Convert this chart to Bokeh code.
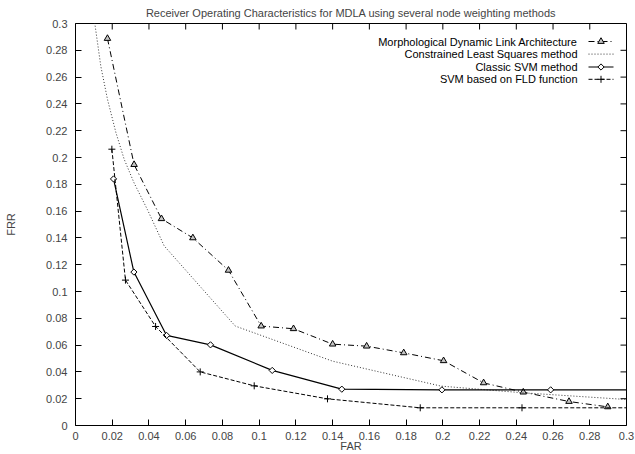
from bokeh.plotting import figure
from bokeh.models import Range1d, FixedTicker, CustomJSTickFormatter, Label, Title
from bokeh.embed import file_html
from bokeh.resources import INLINE
import math

# ---------------- data ----------------
TICKS = [0, 0.02, 0.04, 0.06, 0.08, 0.1, 0.12, 0.14, 0.16, 0.18, 0.2, 0.22, 0.24, 0.26, 0.28, 0.3]

MDLA_FAR = [0.0174, 0.0319, 0.0468, 0.0639, 0.0833, 0.1011, 0.1187, 0.1400, 0.1585, 0.1787, 0.2004, 0.2222, 0.2438, 0.2687, 0.2898]
MDLA_FRR = [0.2888, 0.1947, 0.1543, 0.1400, 0.1158, 0.0742, 0.0722, 0.0607, 0.0592, 0.0542, 0.0483, 0.0318, 0.0249, 0.0179, 0.0139]

CLS_FAR = [0.0100, 0.0138, 0.0174, 0.0220, 0.0265, 0.0319, 0.0392, 0.0483, 0.0870, 0.1400, 0.1990, 0.2436, 0.3000]
CLS_FRR = [0.3050, 0.2680, 0.2435, 0.2186, 0.1987, 0.1810, 0.1610, 0.1340, 0.0742, 0.0480, 0.0294, 0.0244, 0.0194]

SVM_FAR = [0.0207, 0.0318, 0.0496, 0.0735, 0.1071, 0.1450, 0.1995, 0.2587, 0.3200]
SVM_FRR = [0.1840, 0.1145, 0.0672, 0.0602, 0.0411, 0.0271, 0.0266, 0.0266, 0.0266]

FLD_FAR = [0.0198, 0.0272, 0.0436, 0.0679, 0.0973, 0.1372, 0.1877, 0.2431, 0.3200]
FLD_FRR = [0.2062, 0.1085, 0.0739, 0.0400, 0.0296, 0.0199, 0.0132, 0.0132, 0.0132]

NAMES = ["Morphological Dynamic Link Architecture",
         "Constrained Least Squares method",
         "Classic SVM method",
         "SVM based on FLD function"]
TITLE = "Receiver Operating Characteristics for MDLA using several node weighting methods"

XMIN, XMAX, YMIN, YMAX = 0.0, 0.3, 0.0, 0.3

# ---------------- figure ----------------
FONT = "Liberation Sans"
FW, FH = 551, 402
p = figure(frame_width=FW, frame_height=FH, output_backend="svg", toolbar_location=None,
           x_range=Range1d(XMIN, XMAX), y_range=Range1d(YMIN, YMAX),
           min_border_left=75, min_border_right=9, min_border_top=23, min_border_bottom=29,
           title=None)
p.add_layout(Title(text=TITLE, align="center", text_font=FONT, text_font_size="11px",
                   text_font_style="normal", standoff=9, offset=0), "above")
p.grid.visible = False
p.outline_line_color = "black"
p.outline_line_width = 1
p.background_fill_color = "white"
p.border_fill_color = "white"

fmt = CustomJSTickFormatter(code="var s = tick.toFixed(2); s = s.replace(/0+$/, ''); s = s.replace(/\\.$/, ''); return s;")

def style_axis(ax):
    ax.ticker = FixedTicker(ticks=TICKS)
    ax.formatter = fmt
    ax.major_tick_in = 6
    ax.major_tick_out = 0
    ax.minor_tick_in = 0
    ax.minor_tick_out = 0
    ax.axis_line_color = None
    ax.major_tick_line_color = "black"
    ax.major_label_text_font = FONT
    ax.major_label_text_font_size = "11px"
    ax.axis_label_text_font = FONT
    ax.axis_label_text_font_size = "11px"
    ax.axis_label_text_font_style = "normal"

style_axis(p.xaxis[0])
p.xaxis[0].axis_label = "FAR"
p.xaxis[0].major_label_standoff = 6
p.xaxis[0].axis_label_standoff = -3
style_axis(p.yaxis[0])
p.yaxis[0].axis_label = "FRR"
p.yaxis[0].major_label_standoff = 8
p.yaxis[0].axis_label_standoff = 26

PXX = FW / (XMAX - XMIN)
PXY = FH / (YMAX - YMIN)
TICK_LEN = 6
# mirrored inward ticks on the top and right frame edges
n = len(TICKS)
p.segment(x0=TICKS, y0=[YMAX] * n, x1=TICKS, y1=[YMAX - TICK_LEN / PXY] * n, line_color="black", line_width=1)
p.segment(x0=[XMAX] * n, y0=TICKS, x1=[XMAX - TICK_LEN / PXX] * n, y1=TICKS, line_color="black", line_width=1)

# ---------------- series ----------------
TRI = dict(marker="triangle", size=6.5, line_color="black", fill_color="#c4c4c4", line_width=1)
DIA = dict(marker="square", angle=math.pi / 4, size=4.4, line_color="black", fill_color="white", line_width=1)
PLUS = dict(marker="cross", size=7, line_color="black", line_width=1)

p.line(MDLA_FAR, MDLA_FRR, line_color="black", line_width=1, line_dash="6 3 1 3")
p.scatter(MDLA_FAR, MDLA_FRR, **TRI)

p.line(CLS_FAR, CLS_FRR, line_color="#333333", line_width=1, line_dash="1 2")

p.line(SVM_FAR, SVM_FRR, line_color="black", line_width=1.2)
p.scatter(SVM_FAR, SVM_FRR, **DIA)

p.line(FLD_FAR, FLD_FRR, line_color="black", line_width=1, line_dash="4 2")
p.scatter(FLD_FAR, FLD_FRR, **PLUS)

# ---------------- legend (gnuplot style: text, then sample on the right) ----------------
row_dy = [18.0, 30.6, 43.5, 55.8]
for i, name in enumerate(NAMES):
    p.add_layout(Label(x=XMAX, y=YMAX, x_units="data", y_units="data", x_offset=-49, y_offset=-row_dy[i],
                       text=name, text_align="right", text_baseline="middle",
                       text_font=FONT, text_font_size="11px", text_color="black"))

sx0 = XMAX - 38 / PXX
sx1 = XMAX - 13 / PXX
sxm = (sx0 + sx1) / 2
ys = [YMAX - d / PXY for d in row_dy]
p.line([sx0, sx1], [ys[0], ys[0]], line_color="black", line_width=1, line_dash="6 3 1 3")
p.scatter([sxm], [ys[0]], **TRI)
p.line([sx0, sx1], [ys[1], ys[1]], line_color="#333333", line_width=1, line_dash="1 2")
p.line([sx0, sx1], [ys[2], ys[2]], line_color="black", line_width=1.2)
p.scatter([sxm], [ys[2]], **DIA)
p.line([sx0, sx1], [ys[3], ys[3]], line_color="black", line_width=1, line_dash="4 2")
p.scatter([sxm], [ys[3]], **PLUS)

open("out.html", "w").write(file_html(p, INLINE))
